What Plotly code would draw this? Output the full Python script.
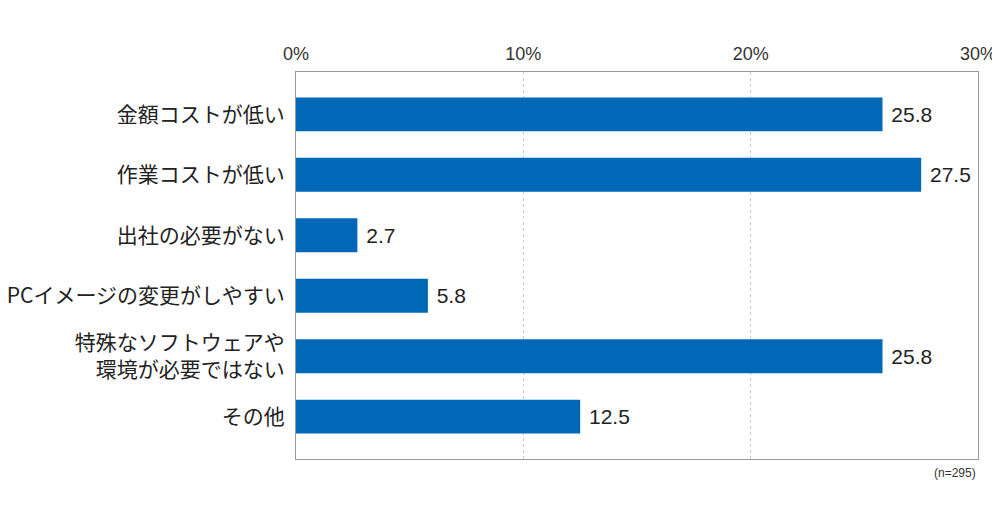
import plotly.graph_objects as go

categories = [
    "金額コストが低い",
    "作業コストが低い",
    "出社の必要がない",
    "PCイメージの変更がしやすい",
    "特殊なソフトウェアや<br>環境が必要ではない",
    "その他",
]
values = [25.8, 27.5, 2.7, 5.8, 25.8, 12.5]
x_ticks = [0, 10, 20, 30]
x_tick_labels = ["0%", "10%", "20%", "30%"]
note = "(n=295)"

fig = go.Figure()

fig.add_trace(
    go.Bar(
        y=categories,
        x=values,
        orientation="h",
        marker=dict(color="#0068b7", line=dict(width=0)),
        width=0.56,
        text=[f" {v:.1f}" for v in values],
        textposition="outside",
        textfont=dict(family="Liberation Sans, Arial", size=21, color="#222222"),
        cliponaxis=False,
        hoverinfo="skip",
    )
)

fig.update_xaxes(
    side="top",
    range=[0, 30],
    tickvals=x_ticks,
    ticktext=x_tick_labels,
    tickfont=dict(family="Liberation Sans, Arial", size=18, color="#333333"),
    showgrid=True,
    gridcolor="#c8c8c8",
    griddash="dot",
    gridwidth=1,
    showline=True,
    linecolor="#999999",
    linewidth=1,
    mirror=True,
    ticks="outside",
    ticklen=4,
    tickcolor="rgba(0,0,0,0)",
    zeroline=False,
    automargin=False,
)

fig.update_yaxes(
    autorange=False,
    range=[5.7, -0.7],
    tickfont=dict(family="Noto Sans CJK JP", size=21, color="#222222"),
    showline=True,
    linecolor="#999999",
    linewidth=1,
    mirror=True,
    ticks="outside",
    ticklen=6,
    tickcolor="rgba(0,0,0,0)",
    showgrid=False,
    automargin=False,
)

fig.add_annotation(
    text=note,
    xref="paper",
    yref="paper",
    x=1,
    y=-0.012,
    xanchor="right",
    yanchor="top",
    showarrow=False,
    font=dict(family="Liberation Sans, Arial", size=12, color="#333333"),
)

fig.update_layout(
    width=1000,
    height=529,
    margin=dict(l=288, r=30, t=64, b=78),
    plot_bgcolor="white",
    paper_bgcolor="white",
    showlegend=False,
    bargap=0.44,
)

fig.write_html("out.html")
